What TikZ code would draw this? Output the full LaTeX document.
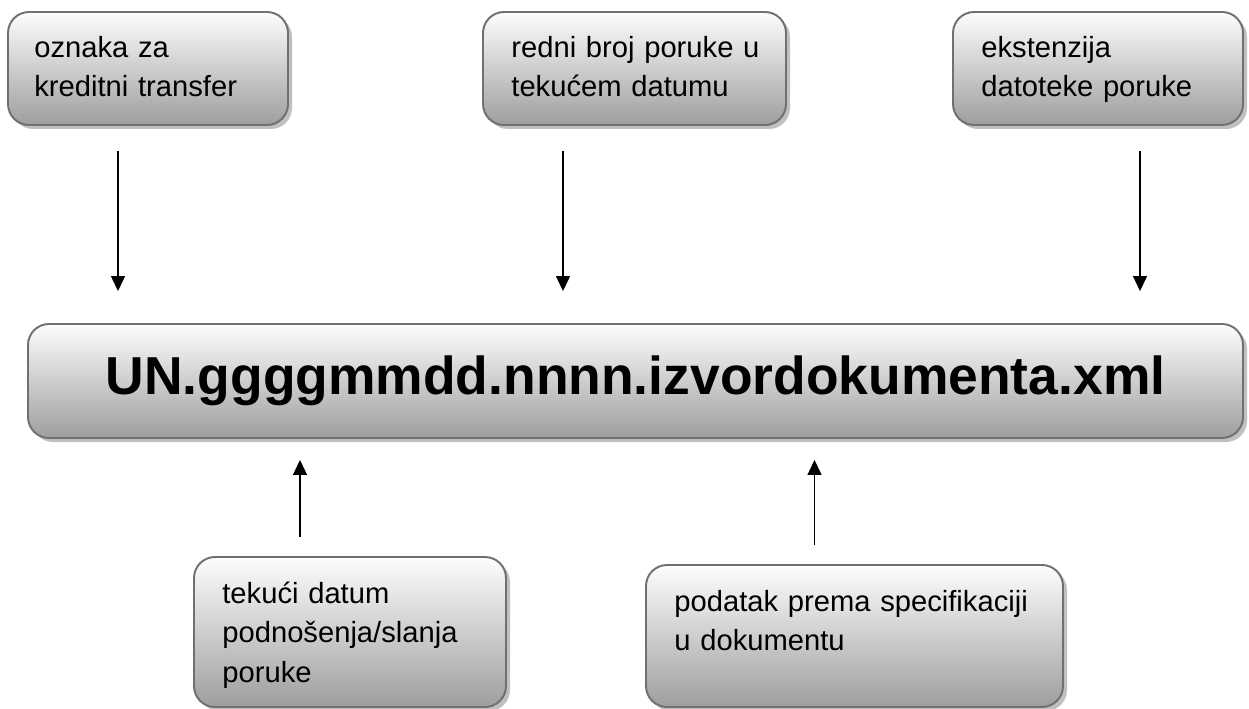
\documentclass[tikz,border=0pt]{standalone}
\usepackage{fontspec}
\setmainfont{Liberation Sans}
\usetikzlibrary{arrows.meta}
\usetikzlibrary{shadows}
\usetikzlibrary{positioning}
\definecolor{boxedge}{RGB}{112,112,112}
\definecolor{boxtop}{RGB}{253,253,253}
\definecolor{boxbottom}{RGB}{158,158,158}
\definecolor{boxshade}{RGB}{192,192,192}

\tikzset{
  infobox/.style={draw=boxedge,line width=1.1pt,rounded corners=0.42cm,
    top color=boxtop,bottom color=boxbottom,inner sep=0pt,
    drop shadow={shadow xshift=0.08cm,shadow yshift=-0.08cm,
      fill=boxshade,opacity=1}},
  boxtext/.style={anchor=base west,inner sep=0pt,align=left,text width=#1,
    font=\fontsize{16.6}{22.7}\selectfont},
  pointer/.style={line width=0.75pt,-{Triangle[length=0.3cm,width=0.28cm]}}
}

\begin{document}
\begin{tikzpicture}
  \useasboundingbox (0,0) rectangle (24.98,-14.18);
  % boxes
  \node[infobox,minimum width=5.6cm,minimum height=2.26cm] (oznaka) at (2.96,-1.37) {};
  \node[infobox,minimum width=6.06cm,minimum height=2.26cm] (redni) at (12.69,-1.37) {};
  \node[infobox,minimum width=5.8cm,minimum height=2.26cm] (ekst) at (21.96,-1.37) {};
  \node[infobox,minimum width=24.3cm,minimum height=2.28cm,
    font=\fontsize{30.4}{36}\selectfont\bfseries] (filename) at (12.71,-7.62)
    {UN.ggggmmdd.nnnn.izvordokumenta.xml};
  \node[infobox,minimum width=6.24cm,minimum height=3.0cm] (datum) at (7.0,-12.64) {};
  \node[infobox,minimum width=8.34cm,minimum height=2.84cm] (podatak) at (17.09,-12.72) {};
  % texts
  \node[boxtext=5cm] (oznakatxt) at ([xshift=0.54cm,yshift=-0.92cm]oznaka.north west)
    {oznaka za\\kreditni transfer};
  \node[boxtext=5.5cm] (rednitxt) at ([xshift=0.58cm,yshift=-0.92cm]redni.north west)
    {redni broj poruke u\\teku\'cem datumu};
  \node[boxtext=5.2cm] (eksttxt) at ([xshift=0.58cm,yshift=-0.92cm]ekst.north west)
    {ekstenzija\\datoteke poruke};
  \node[boxtext=5.7cm] (datumtxt) at ([xshift=0.58cm,yshift=-0.94cm]datum.north west)
    {tekući datum\\podnošenja/slanja\\poruke};
  \node[boxtext=7.6cm] (podataktxt) at ([xshift=0.58cm,yshift=-0.94cm]podatak.north west)
    {podatak prema specifikaciji\\u dokumentu};
  % arrow ends
  \coordinate (a1) at ([xshift=-0.6cm,yshift=-0.5cm]oznaka.south);
  \coordinate (a2) at ([xshift=-1.43cm,yshift=-0.5cm]redni.south);
  \coordinate (a3) at ([xshift=0.84cm,yshift=-0.5cm]ekst.south);
  \coordinate (b1) at ([xshift=-1.0cm,yshift=0.38cm]datum.north);
  \coordinate (b2) at ([xshift=-0.8cm,yshift=0.38cm]podatak.north);
  \coordinate (top) at ([yshift=0.64cm]filename.north);
  \coordinate (bot) at ([yshift=-0.42cm]filename.south);
  \draw[pointer] (a1) -- (a1 |- top);
  \draw[pointer] (a2) -- (a2 |- top);
  \draw[pointer] (a3) -- (a3 |- top);
  \draw[pointer] (b1) -- (b1 |- bot);
  \draw[pointer] (b2) -- (b2 |- bot);
\end{tikzpicture}
\end{document}
